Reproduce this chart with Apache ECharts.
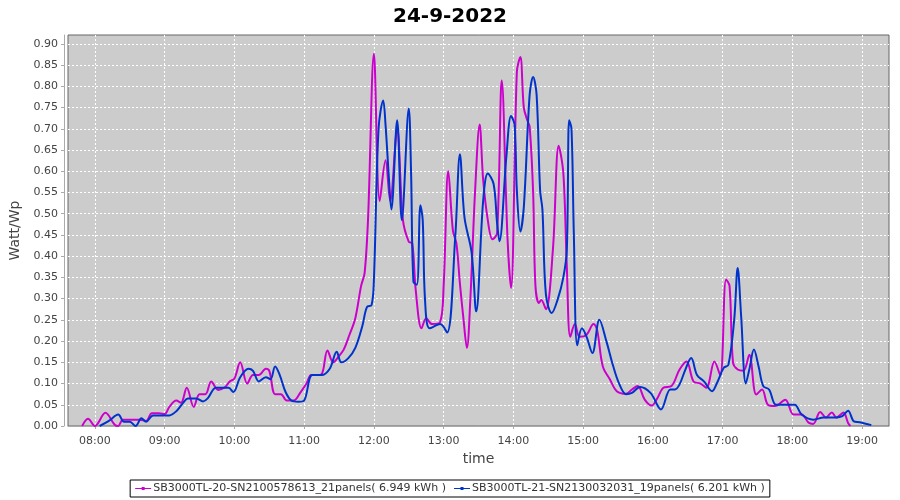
<!DOCTYPE html>
<html>
<head>
<meta charset="utf-8">
<script src="https://cdn.jsdelivr.net/npm/echarts@6/dist/echarts.min.js"></script>
<style>html,body{margin:0;padding:0;background:#fff}#chart{width:900px;height:500px}</style>
</head>
<body>
<div id="chart"></div>
<script>
var chartTitle = '24-9-2022';
var seriesNames = ['SB3000TL-20-SN2100578613_21panels( 6.949 kWh )', 'SB3000TL-21-SN2130032031_19panels( 6.201 kWh )'];
var xTickLabels = ['08:00','09:00','10:00','11:00','12:00','13:00','14:00','15:00','16:00','17:00','18:00','19:00'];
var yTickValues = [0,0.05,0.10,0.15,0.20,0.25,0.30,0.35,0.40,0.45,0.50,0.55,0.60,0.65,0.70,0.75,0.80,0.85,0.90];

var magentaTimes = ['07:49','07:54','08:00','08:09','08:17','08:20','08:24','08:30','08:38','08:44','08:49','08:55','09:00','09:04','09:10','09:14','09:19','09:25','09:30','09:35','09:40','09:46','09:52','09:56','10:00','10:05','10:11','10:16','10:21','10:27','10:30','10:35','10:40','10:45','10:51','10:57','11:02','11:06','11:10','11:15','11:20','11:25','11:30','11:34','11:39','11:44','11:49','11:52','11:55','12:00','12:05','12:10','12:14','12:20','12:25','12:30','12:33','12:36','12:41','12:45','12:50','12:57','13:00','13:04','13:08','13:11','13:14','13:17','13:20','13:23','13:27','13:31','13:34','13:38','13:42','13:46','13:50','13:55','13:58','14:03','14:06','14:09','14:12','14:14','14:17','14:19','14:22','14:24','14:28','14:34','14:39','14:43','14:46','14:49','14:53','14:57','15:03','15:09','15:12','15:17','15:23','15:29','15:37','15:42','15:47','15:53','15:59','16:04','16:09','16:16','16:23','16:29','16:35','16:41','16:46','16:53','16:58','17:03','17:06','17:09','17:13','17:18','17:23','17:29','17:34','17:39','17:45','17:54','18:01','18:08','18:14','18:18','18:24','18:29','18:34','18:38','18:44','18:48','18:50'];
var magentaValues = [0.000,0.017,0.000,0.031,0.003,0.000,0.015,0.015,0.015,0.012,0.030,0.030,0.028,0.045,0.060,0.055,0.090,0.045,0.075,0.075,0.105,0.085,0.092,0.105,0.112,0.150,0.100,0.120,0.120,0.135,0.130,0.075,0.075,0.060,0.060,0.080,0.100,0.120,0.120,0.122,0.178,0.150,0.165,0.180,0.215,0.254,0.330,0.360,0.490,0.877,0.530,0.626,0.530,0.700,0.485,0.434,0.430,0.320,0.230,0.254,0.240,0.245,0.330,0.600,0.460,0.430,0.336,0.254,0.184,0.300,0.550,0.710,0.580,0.485,0.440,0.454,0.814,0.440,0.325,0.834,0.869,0.750,0.720,0.705,0.550,0.330,0.290,0.297,0.275,0.415,0.660,0.595,0.375,0.210,0.240,0.210,0.215,0.240,0.227,0.140,0.110,0.082,0.076,0.086,0.094,0.062,0.048,0.066,0.090,0.094,0.133,0.152,0.105,0.100,0.090,0.152,0.119,0.345,0.330,0.149,0.133,0.130,0.168,0.074,0.086,0.050,0.047,0.062,0.027,0.027,0.008,0.005,0.033,0.020,0.032,0.020,0.032,0.007,0.000];

var blueTimes = ['08:04','08:12','08:20','08:25','08:30','08:35','08:40','08:44','08:50','09:00','09:04','09:10','09:16','09:20','09:27','09:33','09:37','09:44','09:49','09:55','09:59','10:05','10:12','10:16','10:21','10:27','10:31','10:35','10:39','10:44','10:49','10:55','11:00','11:07','11:15','11:22','11:28','11:32','11:38','11:44','11:50','11:54','11:58','12:00','12:04','12:08','12:10','12:13','12:15','12:20','12:24','12:30','12:32','12:34','12:37','12:40','12:42','12:44','12:48','12:57','13:03','13:10','13:14','13:18','13:24','13:28','13:34','13:38','13:43','13:46','13:48','13:54','13:58','14:01','14:03','14:06','14:09','14:14','14:17','14:20','14:23','14:25','14:28','14:33','14:38','14:43','14:46','14:48','14:50','14:52','14:55','14:59','15:03','15:08','15:14','15:20','15:26','15:31','15:37','15:42','15:49','15:58','16:07','16:15','16:19','16:23','16:28','16:33','16:38','16:44','16:51','16:55','17:01','17:05','17:10','17:13','17:16','17:20','17:23','17:27','17:31','17:35','17:40','17:46','17:54','18:02','18:08','18:18','18:27','18:38','18:43','18:48','18:53','18:58','19:08'];
var blueValues = [0.000,0.012,0.027,0.010,0.010,0.000,0.018,0.010,0.025,0.025,0.025,0.035,0.055,0.065,0.065,0.058,0.065,0.090,0.090,0.090,0.080,0.115,0.135,0.130,0.105,0.115,0.110,0.140,0.120,0.080,0.060,0.057,0.060,0.120,0.120,0.135,0.175,0.150,0.160,0.184,0.235,0.280,0.285,0.344,0.700,0.767,0.710,0.580,0.510,0.720,0.485,0.748,0.595,0.340,0.333,0.520,0.485,0.297,0.230,0.240,0.220,0.446,0.640,0.490,0.410,0.270,0.530,0.595,0.570,0.478,0.435,0.635,0.730,0.710,0.555,0.458,0.516,0.780,0.822,0.780,0.555,0.510,0.310,0.266,0.297,0.350,0.415,0.720,0.700,0.455,0.190,0.230,0.210,0.172,0.250,0.200,0.140,0.100,0.075,0.078,0.092,0.078,0.039,0.086,0.086,0.098,0.133,0.160,0.120,0.105,0.082,0.100,0.137,0.144,0.250,0.372,0.258,0.100,0.133,0.180,0.140,0.094,0.086,0.050,0.050,0.050,0.027,0.015,0.020,0.020,0.023,0.036,0.011,0.009,0.002];

function toMin(s){ var p = s.split(':'); return (+p[0])*60 + (+p[1]); }
function pad(n){ return (n<10?'0':'')+n; }
function pairs(ts, vs){ return ts.map(function(t,i){ return [toMin(t), vs[i]]; }); }
var xTickValues = xTickLabels.map(toMin);

var chart = echarts.init(document.getElementById('chart'), null, {renderer:'canvas'});
var font = 'DejaVu Sans';
chart.setOption({
  animation: false,
  backgroundColor: '#ffffff',
  title: {
    text: chartTitle, left: 'center', top: 2,
    textStyle: {fontFamily: font, fontSize: 20, fontWeight: 'bold', color: '#000'}
  },
  legend: {
    bottom: 3, left: 'center',
    borderColor: '#000', borderWidth: 1, padding: [3, 5], itemGap: 8,
    itemWidth: 16, itemHeight: 6,
    icon: 'path://M0,2.4 L16,2.4 L16,3.6 L0,3.6 Z M6.5,1.5 L9.5,1.5 L9.5,4.5 L6.5,4.5 Z',
    textStyle: {fontFamily: font, fontSize: 11, color: '#333', padding: [0,0,0,-3]},
    data: seriesNames
  },
  grid: {
    left: 68, right: 11, top: 35, bottom: 74,
    show: true, backgroundColor: '#cccccc', borderColor: '#666666', borderWidth: 1
  },
  xAxis: {
    type: 'value', min: 456.8, max: 1163.2, offset: 4,
    name: 'time', nameLocation: 'middle', nameGap: 22,
    nameTextStyle: {fontFamily: font, fontSize: 14, color: '#444'},
    axisLine: {show: true, lineStyle: {color: '#aaaaaa', width: 1}},
    axisTick: {show: true, length: 3, customValues: xTickValues, lineStyle: {color: '#aaaaaa'}},
    axisLabel: {customValues: xTickValues, margin: 6, fontFamily: font, fontSize: 11, color: '#444',
      formatter: function(v){ return pad(Math.floor(v/60)) + ':' + pad(Math.round(v%60)); }},
    splitLine: {show: true, lineStyle: {color: '#ffffff', type: [2,2], width: 1}}
  },
  yAxis: {
    type: 'value', min: 0, max: 0.921, offset: 4,
    name: 'Watt/Wp', nameLocation: 'middle', nameGap: 30,
    nameTextStyle: {fontFamily: font, fontSize: 14, color: '#444'},
    axisLine: {show: true, lineStyle: {color: '#aaaaaa', width: 1}},
    axisTick: {show: true, length: 3, customValues: yTickValues, lineStyle: {color: '#aaaaaa'}},
    axisLabel: {customValues: yTickValues, margin: 6, fontFamily: font, fontSize: 11, color: '#444',
      formatter: function(v){ return v.toFixed(2); }},
    splitLine: {show: true, lineStyle: {color: '#ffffff', type: [2,2], width: 1}}
  },
  series: [
    {name: seriesNames[0], type: 'line', data: pairs(magentaTimes, magentaValues), smooth: 0.35,
     showSymbol: false, color: '#cc00cc', lineStyle: {width: 2, color: '#cc00cc'}},
    {name: seriesNames[1], type: 'line', data: pairs(blueTimes, blueValues), smooth: 0.35,
     showSymbol: false, color: '#0033cc', lineStyle: {width: 2, color: '#0033cc'}}
  ]
});
</script>
</body>
</html>
